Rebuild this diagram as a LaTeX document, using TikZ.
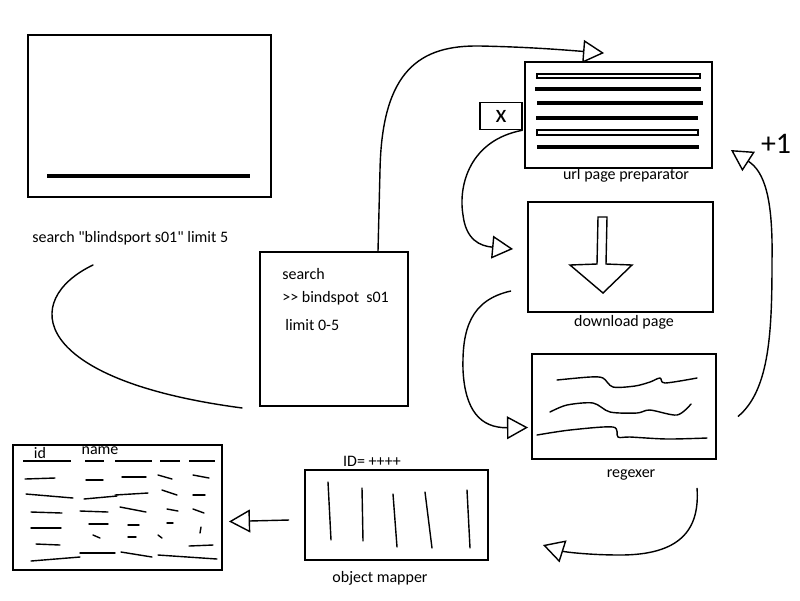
\documentclass[tikz,border=0pt]{standalone}
\usepackage{fontspec}
\setmainfont{Carlito}[Ligatures=TeXOff]
\usetikzlibrary{positioning, arrows.meta, calc}

\begin{document}
\begin{tikzpicture}[
    x=0.02cm, y=-0.02cm,
    box/.style={draw, line width=1.1pt, inner sep=0pt},
    lbl/.style={font=\fontsize{9.1}{11}\selectfont, inner sep=0pt},
    flow/.style={line width=0.8pt, -{Triangle[open, length=12pt, width=13pt]}},
    pen/.style={line width=0.8pt, line cap=round},
    bar/.style={line width=2pt}
]
    \useasboundingbox (0,0) rectangle (800,600);

    % --- SEARCH SCREEN ---
    \node[box, minimum width=4.86cm, minimum height=3.24cm] (screen) at (149.5,116) {};
    \draw[line width=2.2pt] (47,176) -- (250,176);
    \node[lbl, anchor=west] (qtext) at (32,238) {search "blindsport s01" limit 5};

    % Parsed query
    \node[box, minimum width=2.96cm, minimum height=3.08cm] (query) at (334,329) {};
    \node[lbl, anchor=west] (q1) at (282,274) {search};
    \node[lbl, anchor=west] (q2) at (282,298) {>> bindspot\ \ s01};
    \node[lbl, anchor=west] (q3) at (285,325) {limit 0-5};
    \coordinate (qstart) at (93,265);
    \draw[pen] (qstart) .. controls (20,300) and (30,380) .. ($(query.south west)+(-17,1)$);

    % --- URL PAGE PREPARATOR ---
    \node[box, minimum width=3.74cm, minimum height=2.12cm] (urlprep) at (618.5,115) {};
    \node[lbl] (urllbl) at (626,175) {url page preparator};
    \draw[line width=0.9pt] (537,74) rectangle (700,78);
    \draw[line width=0.9pt] (537,130) rectangle (698,135);
    \draw[bar] (535,89) -- (701,89);
    \draw[bar] (537,103) -- (703,103);
    \draw[bar] (536,118) -- (698,118);
    \draw[bar] (537,147) -- (699,147);
    \node[draw, line width=0.8pt, minimum width=0.84cm, minimum height=0.54cm, inner sep=0pt, font=\Large] (skip) at (501,116) {x};
    \draw[flow] ($(query.north)+(44,0)$) -- (380,170) .. controls (382,70) and (420,45) .. (480,46) .. controls (530,47) and (565,50) .. ($(urlprep.north west)+(80,-8)$);

    % --- DOWNLOAD PAGE ---
    \node[box, minimum width=3.7cm, minimum height=2.2cm] (download) at (620.5,257) {};
    \node[lbl] (dllbl) at (624,322) {download page};
    \draw[line width=0.8pt] (598,217) -- (607,217) -- (606,264) -- (632,265) -- (603,293) -- (570,265) -- (597,264) -- cycle;
    \draw[flow] (skip.south east) .. controls (470,140) and (458,185) .. (463,215) .. controls (466,240) and (480,246) .. ($(download.west)+(-14,-8)$);

    % --- REGEXER ---
    \node[box, minimum width=3.68cm, minimum height=2.1cm] (regex) at (624,406.5) {};
    \node[lbl] (rxlbl) at (631,475) {regexer};
    \draw[pen] plot[smooth] coordinates {(557,380) (590,377) (603,378) (613,387) (635,386) (650,382) (660,378) (665,383) (697,378)};
    \draw[pen] plot[smooth] coordinates {(550,412) (567,405) (593,403) (610,412) (637,413) (650,410) (677,415) (691,404)};
    \draw[pen] plot[smooth] coordinates {(537,435) (570,430) (613,427) (618,437) (630,437) (667,439) (707,438)};
    \draw[flow] ($(download.south west)+(-16,-22)$) .. controls (470,300) and (462,330) .. (463,370) .. controls (465,410) and (480,428) .. ($(regex.west)+(-3,21)$);

    % Loop back (+1)
    \draw[flow] ($(regex.east)+(21,10)$) .. controls (770,390) and (772,330) .. (772,260) .. controls (773,200) and (765,172) .. ($(urlprep.east)+(18,35)$);
    \node[font=\fontsize{17}{19}\selectfont, inner sep=0pt] (plusone) at (776,144) {+1};

    % --- OBJECT MAPPER ---
    \node[box, minimum width=3.66cm, minimum height=1.8cm] (mapper) at (396.5,515) {};
    \node[lbl] (idlbl) at (372,461) {ID= ++++};
    \node[lbl] (maplbl) at (380,578) {object mapper};
    \draw[pen] (328,482) -- (331,540);
    \draw[pen] (362,488) -- (363,541);
    \draw[pen] (393,494) -- (397,547);
    \draw[pen] (425,492) -- (432,548);
    \draw[pen] (467,490) -- (470,548);
    \draw[flow] ($(regex.south)+(73,28)$) .. controls (700,530) and (680,555) .. (620,555) .. controls (590,555) and (565,552) .. ($(mapper.east)+(54,30)$);

    % --- RESULT TABLE ---
    \node[box, minimum width=4.18cm, minimum height=2.5cm] (table) at (117.5,507.5) {};
    \node[lbl] (idcol) at (40,453) {id};
    \node[lbl] (namecol) at (100,451) {name};
    \foreach \a/\b in {23/71, 85/104, 115/152, 160/180, 189/215}
        \draw[line width=1.6pt] (\a,461) -- (\b,461);
    % rows
    \foreach \a/\p/\b/\q in {25/479/55/478, 86/480/103/480, 122/477/146/477, 158/475/172/479, 193/475/209/478,
        26/494/73/498, 84/499/117/496, 115/495/148/493, 162/490/177/495, 193/495/205/495,
        31/512/62/513, 80/511/108/512, 120/507/146/512, 167/509/178/511, 193/509/204/513,
        31/528/61/528, 89/524/108/524, 128/525/139/525, 167/523/173/523, 201/527/200/533,
        36/544/60/545, 93/535/100/538, 128/537/136/537, 158/535/162/538, 189/546/213/545,
        31/561/80/557, 80/553/115/553, 121/552/152/557, 158/555/217/559}
        \draw[pen] (\a,\p) -- (\b,\q);
    \draw[flow] ($(mapper.west)+(-15,5)$) -- ($(table.east)+(6,14)$);

\end{tikzpicture}
\end{document}
